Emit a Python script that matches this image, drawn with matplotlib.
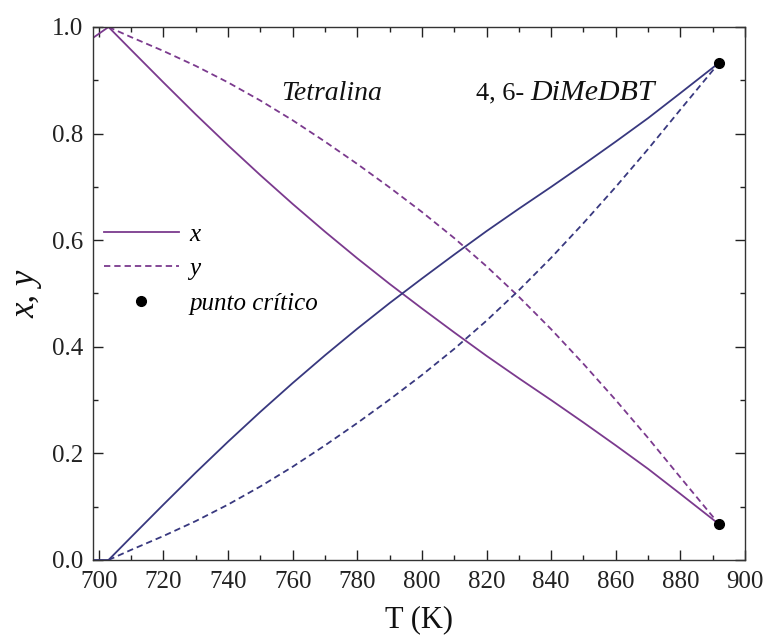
import matplotlib
matplotlib.use("Agg")
import matplotlib.pyplot as plt
from matplotlib.ticker import MultipleLocator, FormatStrFormatter

plt.rcParams['font.family'] = ['Liberation Serif', 'DejaVu Serif']

# Temperature grid (K)
T = [703, 710, 720, 730, 740, 750, 760, 770, 780, 790, 800, 810, 820, 830,
     840, 850, 860, 870, 880, 892]

# Tetralina
x_tetralina = [1.0, 0.957, 0.896, 0.836, 0.778, 0.722, 0.668, 0.616, 0.566,
               0.518, 0.472, 0.427, 0.383, 0.341, 0.300, 0.258, 0.215, 0.171,
               0.124, 0.067]
y_tetralina = [1.0, 0.981, 0.955, 0.927, 0.896, 0.862, 0.825, 0.785, 0.743,
               0.699, 0.653, 0.604, 0.551, 0.494, 0.433, 0.368, 0.300, 0.229,
               0.155, 0.067]

# 4,6-DiMeDBT
x_dimedbt = [0.0, 0.043, 0.104, 0.164, 0.222, 0.278, 0.332, 0.384, 0.434,
             0.482, 0.528, 0.573, 0.617, 0.659, 0.700, 0.742, 0.785, 0.829,
             0.876, 0.933]
y_dimedbt = [0.0, 0.019, 0.045, 0.073, 0.104, 0.138, 0.175, 0.215, 0.257,
             0.301, 0.347, 0.396, 0.449, 0.506, 0.567, 0.632, 0.700, 0.771,
             0.845, 0.933]

# start segments near the axis edge
T_start = [698.3, 703]
tet_start = [0.98, 1.0]
dime_start = [0.0, 0.0]

# critical points
T_crit = [892, 892]
z_crit = [0.933, 0.067]

PURPLE = '#7b3a8e'
BLUE = '#38387f'

fig = plt.figure(figsize=(7.64, 6.36), dpi=100)
ax = fig.add_axes([93/764, 1-560/636, (745-93)/764, (560-27)/636])

lw = 1.3
dash = (0, (3.5, 2.2))
ax.plot(T_start, tet_start, color=PURPLE, lw=lw)
ax.plot(T_start, dime_start, color=BLUE, lw=lw)
ax.plot(T, x_tetralina, color=PURPLE, lw=lw)
ax.plot(T, y_tetralina, color=PURPLE, lw=lw, ls=dash)
ax.plot(T, x_dimedbt, color=BLUE, lw=lw)
ax.plot(T, y_dimedbt, color=BLUE, lw=lw, ls=dash)
ax.plot(T_crit, z_crit, 'o', color='black', ms=7, zorder=5)

# legend proxies
hx, = ax.plot([], [], color=PURPLE, lw=lw, label='x')
hy, = ax.plot([], [], color=PURPLE, lw=lw, ls=dash, label='y')
hp, = ax.plot([], [], 'o', color='black', ms=7, label='punto crítico')
leg = ax.legend(handles=[hx, hy, hp], loc='upper left',
                bbox_to_anchor=(-0.01, 0.665), frameon=False,
                prop={'family': ['Liberation Serif'], 'style': 'italic', 'size': 18},
                handlelength=3.0, handletextpad=0.4, labelspacing=0.48,
                borderaxespad=0.3)

ax.set_xlim(698.2, 900)
ax.set_ylim(0, 1.0)
ax.xaxis.set_major_locator(MultipleLocator(20))
ax.xaxis.set_minor_locator(MultipleLocator(10))
ax.yaxis.set_major_locator(MultipleLocator(0.2))
ax.yaxis.set_minor_locator(MultipleLocator(0.1))
ax.tick_params(which='both', direction='in', top=True, right=True,
               labelsize=18, colors='#222222', width=1.0)
ax.tick_params(which='major', length=7.2, pad=7)
ax.tick_params(axis='x', which='major', pad=8)
ax.tick_params(which='minor', length=3.6)
ax.yaxis.set_major_formatter(FormatStrFormatter('%.1f'))
for s in ax.spines.values():
    s.set_linewidth(1.0)
    s.set_color('#333333')

ax.set_xlabel('T (K)', fontsize=22, labelpad=9, color='#111111')
ax.set_ylabel('x, y', fontsize=25, style='italic', labelpad=7, color='#111111')

ax.text(772, 0.876, 'Tetralina', fontsize=20, style='italic', ha='center',
        va='center', color='#111111')
ax.text(831.8, 0.876, '4, 6-', fontsize=19, ha='right', va='center', color='#111111')
ax.text(833.5, 0.876, 'DiMeDBT', fontsize=21.5, style='italic', ha='left',
        va='center', color='#111111')

fig.savefig('out.png', dpi=100)
